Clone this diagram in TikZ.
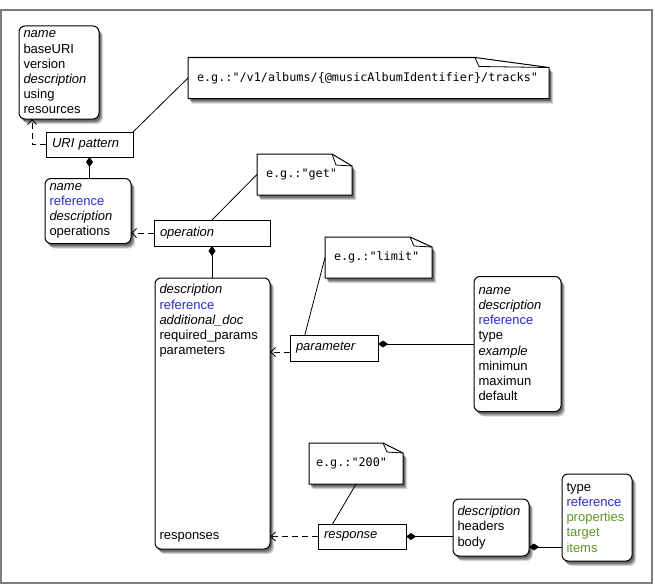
\documentclass[tikz,border=0pt]{standalone}
\usepackage{fontspec}
\setmainfont{Liberation Sans}
\setmonofont{DejaVu Sans Mono}
\usetikzlibrary{arrows.meta,shadows,backgrounds,calc}
\definecolor{refblue}{RGB}{40,40,230}
\definecolor{propgreen}{RGB}{95,150,35}
\definecolor{framegray}{RGB}{125,125,125}
\begin{document}
\begin{tikzpicture}[x=1pt,y=-1pt,
  font=\fontsize{13}{15.2}\selectfont,
  every node/.style={inner ysep=0pt, outer sep=0pt},
  shad/.style={drop shadow={shadow xshift=4pt, shadow yshift=-5pt, opacity=0.15, fill=black},
               drop shadow={shadow xshift=3pt, shadow yshift=-4pt, opacity=0.25, fill=black},
               drop shadow={shadow xshift=1.8pt, shadow yshift=-2.5pt, opacity=0.35, fill=black}},
  props/.style={draw, line width=1pt, rounded corners=6pt, fill=white, align=left, inner xsep=4.5pt, shad},
  cls/.style={draw, line width=0.9pt, fill=white, align=left, inner xsep=6pt, font=\fontsize{13}{15.2}\selectfont\itshape},
  note/.style={align=left, inner xsep=9pt, font=\ttfamily\fontsize{11.8}{14}\selectfont},
  notebody/.style={draw, line width=1pt, fill=white, line join=round, shad},
  fold/.style={draw, line width=0.8pt, line join=round},
  dep/.style={draw, line width=0.8pt, dash pattern=on 6pt off 4pt, arrows={-Straight Barb[length=5pt,width=9pt]}},
  comp/.style={draw, line width=0.8pt, arrows={Diamond[length=10pt,width=7pt]-}},
  link/.style={draw, line width=0.8pt}
]
\useasboundingbox (0,0) rectangle (655,586);
\draw[framegray, line width=1.5pt] (1,10) rectangle (652,583);

% property boxes
\node[props, text width=71pt, minimum height=93pt] (api) at (59,72.5)
  {\textit{name}\\baseURI\\version\\\textit{description}\\using\\resources};
\node[props, text width=77pt, minimum height=65pt] (res) at (88,211)
  {\textit{name}\\\textcolor{refblue}{reference}\\\textit{description}\\operations};
\node[props, text width=106pt, minimum height=271pt] (opbox) at (212.5,413.5)
  {\textit{description}\\\textcolor{refblue}{reference}\\\textit{additional\_doc}\\required\_params\\parameters\\[169.8pt]responses};
\node[props, text width=78pt, minimum height=135pt] (pp) at (517.5,344)
  {\textit{name}\\\textit{description}\\\textcolor{refblue}{reference}\\type\\\textit{example}\\minimun\\maximun\\default};
\node[props, text width=67pt, minimum height=57pt] (body) at (491,527.5)
  {\textit{description}\\headers\\body};
\node[props, text width=61pt, minimum height=87pt] (sch) at (597,517.5)
  {type\\\textcolor{refblue}{reference}\\\textcolor{propgreen}{properties}\\\textcolor{propgreen}{target}\\\textcolor{propgreen}{items}};

% class boxes
\node[cls, text width=75pt, minimum height=25pt] (uri) at (89.5,144.5) {URI pattern};
\node[cls, text width=104pt, minimum height=26pt] (op) at (212,233) {operation};
\node[cls, text width=76pt, minimum height=26pt] (par) at (334,348) {parameter};
\node[cls, text width=76pt, minimum height=25pt] (resp) at (362,536.5) {response};

% notes
\node[note, text width=343pt, minimum height=41pt] (n1) at (368.5,78)
  {e.g.:"/v1/albums/\{@musicAlbumIdentifier\}/tracks"};
\node[note, text width=77pt, minimum height=41pt] (n2) at (304.5,174.5) {e.g.:"get"};
\node[note, text width=89pt, minimum height=41pt] (n3) at (378.5,257.5) {e.g.:"limit"};
\node[note, inner xsep=7pt, text width=80pt, minimum height=41pt] (n4) at (356,463.5) {e.g.:"200"};

\begin{scope}[on background layer]
  \foreach \n/\fw/\fh in {n1/74/10, n2/20/12, n3/22/10, n4/20/10}{
    \path[notebody] (\n.north west) -- ($(\n.north east)+(-\fw,0)$) -- ($(\n.north east)+(0,\fh)$)
      -- (\n.south east) -- (\n.south west) -- cycle;
    \path[fold] ($(\n.north east)+(-\fw,0)$) -- ($(\n.north east)+(-\fw+4,\fh-1)$) -- ($(\n.north east)+(0,\fh)$);
  }
\end{scope}

% connectors
\coordinate (apiin) at ($(api.south west)+(13,0)$);
\draw[dep] (uri.west) -| (apiin);
\draw[link] (uri.north east) -- (n1.west);
\draw[comp] (uri.south) -- (uri.south |- res.north);
\draw[dep] (op.west) -- (op.west -| res.east);
\draw[link] (op.north) -- (n2.west);
\draw[comp] (op.south) -- (op.south |- opbox.north);
\coordinate (parout) at ($(par.south west)+(0,-9)$);
\draw[dep] (parout) -- (parout -| opbox.east);
\draw[link] (par.156) -- (n3.west);
\draw[comp] (par.east |- pp.west) -- (pp.west);
\draw[link] (resp.157) -- (n4.south);
\draw[dep] (resp.west) -- (resp.west -| opbox.east);
\draw[comp] (resp.east) -- (resp.east -| body.west);
\coordinate (bodyout) at ($(body.south east)+(0,-9)$);
\draw[comp] (bodyout) -- (bodyout -| sch.west);
\end{tikzpicture}
\end{document}
